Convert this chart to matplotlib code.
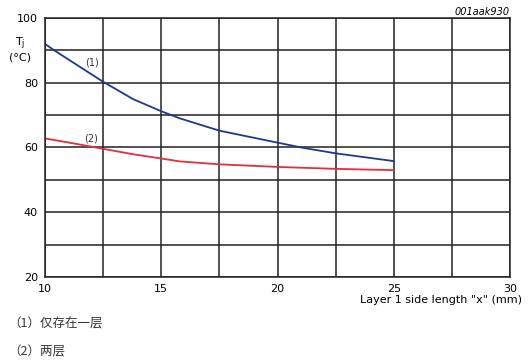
import numpy as np
import matplotlib
matplotlib.use("Agg")
import matplotlib.pyplot as plt

plt.rcParams["font.family"] = ["DejaVu Sans", "Noto Sans CJK SC"]

# curve (1): one layer only
x1 = [10, 10.4, 11.2, 12.5, 13.8, 15, 15.8, 17.5, 20, 21.1, 22.5, 25]
t1 = [92.0, 90.0, 86.3, 80.3, 74.9, 71.2, 69.0, 65.2, 61.5, 59.9, 58.2, 55.8]
# curve (2): two layers
x2 = [10, 11.2, 12.5, 13.8, 15, 15.8, 17.5, 20, 22.5, 25]
t2 = [62.8, 61.3, 59.6, 57.9, 56.6, 55.7, 54.8, 54.0, 53.4, 53.0]

x_ticks = [10, 15, 20, 25, 30]
y_ticks = [20, 40, 60, 80, 100]
notes = ["（1）仅存在一层", "（2）两层"]

fig = plt.figure(figsize=(5.30, 3.62), dpi=100)
ax = fig.add_axes([45 / 530, 1 - 277 / 362, 465 / 530, 259 / 362])

ax.set_xlim(10, 30)
ax.set_ylim(20, 100)
xg = np.arange(10, 30.1, 2.5)
yg = np.arange(20, 100.1, 10)
ax.set_xticks(xg)
ax.set_yticks(yg)
ax.set_xticklabels([f"{v:g}" if v in x_ticks else "" for v in xg])
ax.set_yticklabels([f"{v:g}" if v in y_ticks else "" for v in yg])
ax.grid(True, color="#222222", linewidth=1.1)
ax.tick_params(length=0, labelsize=8, pad=5)
for s in ax.spines.values():
    s.set_color("#222222")
    s.set_linewidth(1.1)

ax.plot(x1, t1, color="#1a3a8f", linewidth=1.3)
ax.plot(x2, t2, color="#e0303a", linewidth=1.3)
ax.text(12.0, 86.4, "(1)", fontsize=7, ha="center", va="center", color="#333333")
ax.text(12.0, 62.8, "(2)", fontsize=7, ha="center", va="center", color="#333333")

fig.text(20 / 530, 1 - 44 / 362, "T$_\\mathregular{j}$", fontsize=8, ha="center", va="center")
fig.text(20 / 530, 1 - 58 / 362, "(°C)", fontsize=8, ha="center", va="center")
fig.text(522 / 530, 1 - 300 / 362, "Layer 1 side length \"x\" (mm)", fontsize=8,
         ha="right", va="center")
fig.text(510 / 530, 1 - 12 / 362, "001aak930", fontsize=7, style="italic",
         ha="right", va="center")

for i, n in enumerate(notes):
    fig.text(8 / 530, 1 - (324 + 28 * i) / 362, n, fontsize=9, ha="left", va="center",
             family=["Noto Sans CJK SC", "DejaVu Sans"], color="#333333")

fig.savefig("out.png", dpi=100)
